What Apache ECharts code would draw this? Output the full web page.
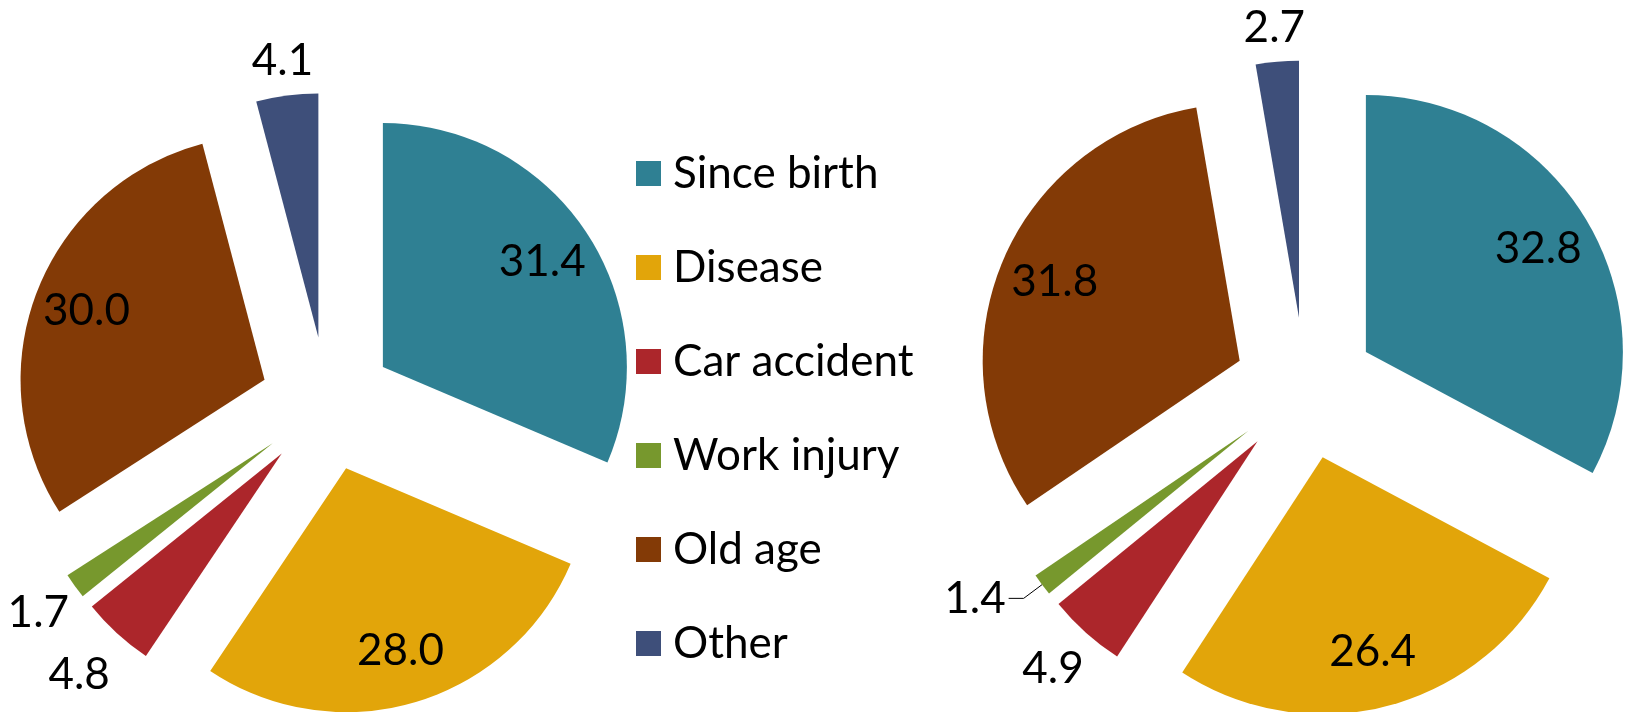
<!DOCTYPE html>
<html><head><meta charset="utf-8">
<script src="https://cdn.jsdelivr.net/npm/echarts@6/dist/echarts.min.js"></script>
<style>html,body{margin:0;padding:0;background:#fff}#c{width:1629px;height:712px}</style>
</head><body><div id="c"></div>
<script>
// ---- data ----
const categories = ['Since birth', 'Disease', 'Car accident', 'Work injury', 'Old age', 'Other'];
const leftValues = [31.4, 28.0, 4.8, 1.7, 30.0, 4.1];
const rightValues = [32.8, 26.4, 4.9, 1.4, 31.8, 2.7];

// ---- style ----
const colors = ['#2F8093', '#E2A50A', '#AC262B', '#77982D', '#833A06', '#3E4F7A'];
const FONT = 'Lato';
const FS = 44;
const insideIdx = [0, 1, 4];
const leftOuterLen = [0, 0, 56, 45, 0, 35];
const rightOuterLen = [0, 0, 49, 23, 0, 34];
const leaderIdxRight = 3;

function fmt(p) { return Number(p.value).toFixed(1); }

function mainData(values, lens, leaderIdx) {
  return values.map((v, i) => {
    const inside = insideIdx.indexOf(i) >= 0;
    const leader = i === leaderIdx;
    return {
      name: categories[i], value: v, selected: true,
      itemStyle: { color: colors[i] },
      label: {
        show: !inside, position: 'outside',
        distanceToLabelLine: leader ? 3 : 0
      },
      labelLine: {
        show: leader, length: lens[i], length2: leader ? 15 : 0,
        lineStyle: { color: '#000', width: 1 }
      }
    };
  });
}
function overlayData(values) {
  return values.map((v, i) => ({
    name: categories[i], value: v, selected: true,
    label: { show: insideIdx.indexOf(i) >= 0 }
  }));
}

const labelText = { color: '#000', fontFamily: FONT, fontSize: FS, formatter: fmt };

function mainSeries(values, center, r, off, lens, leaderIdx) {
  return {
    type: 'pie', center: center, radius: [0, r],
    selectedMode: 'multiple', selectedOffset: off,
    startAngle: 90, clockwise: true, avoidLabelOverlap: false,
    itemStyle: { borderWidth: 0 },
    label: Object.assign({}, labelText),
    labelLine: { show: false },
    emphasis: { disabled: true },
    select: { itemStyle: { borderWidth: 0 }, label: { color: '#000' } },
    labelLayout: function (p) {
      if (p.dataIndex === leaderIdx) return { verticalAlign: 'bottom', dy: 22 };
      return { align: 'center' };
    },
    data: mainData(values, lens, leaderIdx),
    animation: false
  };
}
function overlaySeries(values, center, r0, r, off) {
  return {
    type: 'pie', center: center, radius: [r0, r], silent: true, z: 5,
    selectedMode: 'multiple', selectedOffset: off,
    startAngle: 90, clockwise: true, avoidLabelOverlap: false,
    itemStyle: { color: 'rgba(0,0,0,0)', borderWidth: 0 },
    label: Object.assign({ position: 'inside' }, labelText),
    labelLine: { show: false },
    emphasis: { disabled: true },
    select: { itemStyle: { color: 'rgba(0,0,0,0)', borderWidth: 0 }, label: { color: '#000' } },
    data: overlayData(values),
    animation: false
  };
}

const chart = echarts.init(document.getElementById('c'), null, { renderer: 'canvas' });
chart.setOption({
  backgroundColor: '#fff',
  animation: false,
  color: colors,
  legend: {
    orient: 'vertical', left: 636, top: 148.5, padding: 0,
    icon: 'rect', itemWidth: 25, itemHeight: 25, itemGap: 44,
    selectedMode: false,
    data: categories,
    textStyle: { fontFamily: FONT, fontSize: FS, color: '#000', lineHeight: 50, padding: [0, 0, 0, 7] }
  },
  series: [
    mainSeries(leftValues, [327, 404], 244, 67, leftOuterLen, -1),
    mainSeries(rightValues, [1305, 388.5], 257, 71, rightOuterLen, leaderIdxRight),
    overlaySeries(leftValues, [327, 404], 132, 244, 67),
    overlaySeries(rightValues, [1305, 388.5], 139, 257, 71)
  ]
});
</script></body></html>
